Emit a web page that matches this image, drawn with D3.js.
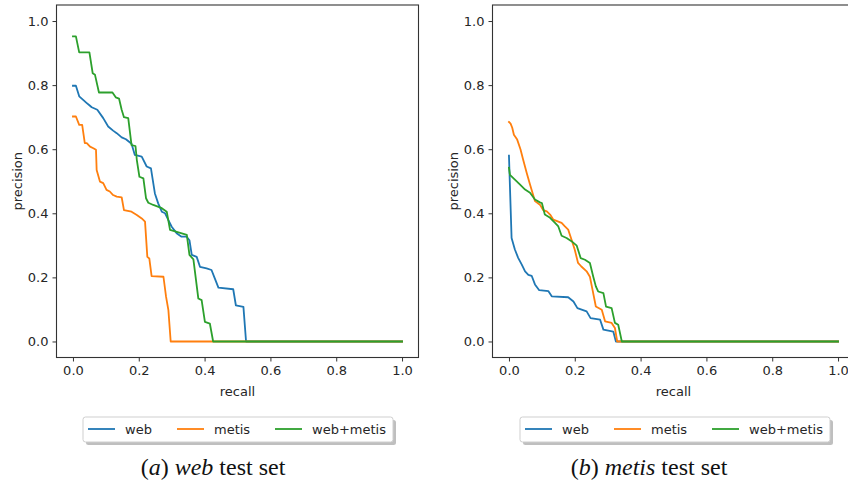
<!DOCTYPE html>
<html>
<head>
<meta charset="utf-8">
<script src="https://cdn.jsdelivr.net/npm/d3@7"></script>
<style>
  html, body { margin: 0; padding: 0; background: #fff; }
  svg { display: block; }
</style>
</head>
<body>
<svg id="chart" width="848" height="485"></svg>
<script>
// Precision–recall curves, [recall, precision] pairs.
// (a) web test set
const webTestWeb = [
  [0, 0.798], [0.009, 0.798], [0.019, 0.765], [0.031, 0.754], [0.042, 0.744], [0.05, 0.737],
  [0.057, 0.731], [0.074, 0.723], [0.092, 0.697], [0.107, 0.671], [0.122, 0.658], [0.133, 0.65],
  [0.148, 0.637], [0.161, 0.631], [0.178, 0.617], [0.188, 0.582], [0.209, 0.577], [0.224, 0.546],
  [0.237, 0.54], [0.249, 0.462], [0.259, 0.431], [0.27, 0.405], [0.28, 0.4], [0.29, 0.379],
  [0.3, 0.358], [0.315, 0.338], [0.33, 0.327], [0.345, 0.327], [0.354, 0.316], [0.361, 0.27],
  [0.376, 0.264], [0.386, 0.233], [0.406, 0.228], [0.421, 0.223], [0.431, 0.197], [0.442, 0.168],
  [0.487, 0.163], [0.495, 0.113], [0.518, 0.108], [0.526, 0], [1.0, 0]
];
const webTestMetis = [
  [0, 0.702], [0.009, 0.702], [0.019, 0.676], [0.028, 0.676], [0.036, 0.619], [0.042, 0.619],
  [0.052, 0.608], [0.062, 0.603], [0.07, 0.598], [0.072, 0.535], [0.082, 0.499], [0.092, 0.494],
  [0.102, 0.473], [0.112, 0.468], [0.122, 0.457], [0.133, 0.452], [0.148, 0.45], [0.155, 0.41],
  [0.178, 0.405], [0.194, 0.395], [0.209, 0.384], [0.219, 0.374], [0.226, 0.264], [0.232, 0.259],
  [0.239, 0.204], [0.275, 0.202], [0.283, 0.139], [0.29, 0.098], [0.297, 0], [1.0, 0]
];
const webTestCombined = [
  [0, 0.952], [0.009, 0.952], [0.019, 0.902], [0.05, 0.902], [0.06, 0.837], [0.067, 0.832],
  [0.079, 0.777], [0.12, 0.777], [0.13, 0.762], [0.14, 0.758], [0.148, 0.723], [0.155, 0.7],
  [0.168, 0.697], [0.178, 0.613], [0.19, 0.61], [0.194, 0.567], [0.202, 0.514], [0.214, 0.509],
  [0.222, 0.447], [0.229, 0.433], [0.244, 0.426], [0.27, 0.416], [0.285, 0.405], [0.295, 0.348],
  [0.346, 0.333], [0.354, 0.27], [0.366, 0.256], [0.381, 0.134], [0.391, 0.129], [0.401, 0.061],
  [0.416, 0.056], [0.426, 0], [1.0, 0]
];
// (b) metis test set
const metisTestWeb = [
  [0, 0.58], [0.008, 0.323], [0.018, 0.287], [0.028, 0.261], [0.039, 0.24], [0.049, 0.219],
  [0.059, 0.208], [0.069, 0.205], [0.079, 0.178], [0.092, 0.16], [0.12, 0.157], [0.13, 0.141],
  [0.18, 0.138], [0.196, 0.125], [0.208, 0.104], [0.236, 0.094], [0.248, 0.073], [0.277, 0.068],
  [0.287, 0.037], [0.317, 0.031], [0.325, 0], [1.0, 0]
];
const metisTestMetis = [
  [0, 0.685], [0.005, 0.68], [0.01, 0.667], [0.015, 0.645], [0.025, 0.63], [0.035, 0.6],
  [0.043, 0.568], [0.054, 0.526], [0.064, 0.49], [0.079, 0.438], [0.094, 0.427], [0.104, 0.41],
  [0.115, 0.406], [0.125, 0.396], [0.135, 0.38], [0.15, 0.374], [0.16, 0.37], [0.17, 0.359],
  [0.18, 0.349], [0.19, 0.318], [0.2, 0.286], [0.21, 0.245], [0.22, 0.234], [0.236, 0.219],
  [0.246, 0.202], [0.254, 0.161], [0.264, 0.109], [0.282, 0.099], [0.292, 0.063], [0.312, 0.058],
  [0.322, 0.042], [0.329, 0], [1.0, 0]
];
const metisTestCombined = [
  [0, 0.542], [0.003, 0.52], [0.018, 0.505], [0.033, 0.49], [0.049, 0.474], [0.064, 0.464],
  [0.079, 0.443], [0.094, 0.434], [0.1, 0.432], [0.109, 0.396], [0.125, 0.386], [0.14, 0.37],
  [0.15, 0.359], [0.16, 0.33], [0.175, 0.323], [0.19, 0.313], [0.206, 0.299], [0.218, 0.26],
  [0.231, 0.255], [0.246, 0.245], [0.256, 0.203], [0.264, 0.172], [0.271, 0.156], [0.287, 0.151],
  [0.295, 0.109], [0.312, 0.104], [0.322, 0.058], [0.332, 0.052], [0.343, 0], [1.0, 0]
];

const seriesNames = ["web", "metis", "web+metis"];
const seriesColors = ["#1f77b4", "#ff7f0e", "#2ca02c"];
const xTicks = [0, 0.2, 0.4, 0.6, 0.8, 1.0];
const yTicks = [0, 0.2, 0.4, 0.6, 0.8, 1.0];

const panels = [
  { letter: "a", set: "web", series: [webTestWeb, webTestMetis, webTestCombined],
    xRange: [56.5, 418.5], legendX: 83, captionX: 213 },
  { letter: "b", set: "metis", series: [metisTestWeb, metisTestMetis, metisTestCombined],
    xRange: [492.5, 854.5], legendX: 520, captionX: 649 }
];

const svg = d3.select("#chart");
const axisColor = "#333";
const textColor = "#262626";
const yRange = [357.5, 5];
const y = d3.scaleLinear().domain([-0.05, 1.05]).range(yRange);
const fmt = d3.format(".1f");

panels.forEach(p => {
  const x = d3.scaleLinear().domain([-0.05, 1.05]).range(p.xRange);
  const g = svg.append("g");

  // plot lines
  const line = d3.line().x(d => x(d[0])).y(d => y(d[1]));
  p.series.forEach((s, i) => {
    g.append("path")
      .datum(s)
      .attr("d", line)
      .attr("fill", "none")
      .attr("stroke", seriesColors[i])
      .attr("stroke-width", 1.8)
      .attr("stroke-linejoin", "round")
      .attr("stroke-linecap", "square");
  });

  // axes frame
  g.append("rect")
    .attr("x", p.xRange[0]).attr("y", yRange[1])
    .attr("width", p.xRange[1] - p.xRange[0]).attr("height", yRange[0] - yRange[1])
    .attr("fill", "none").attr("stroke", axisColor).attr("stroke-width", 1.1);

  const xAxis = d3.axisBottom(x).tickValues(xTicks).tickFormat(fmt).tickSize(4).tickPadding(4);
  const gx = g.append("g").attr("transform", `translate(0,${yRange[0]})`).call(xAxis);
  const yAxis = d3.axisLeft(y).tickValues(yTicks).tickFormat(fmt).tickSize(4).tickPadding(4);
  const gy = g.append("g").attr("transform", `translate(${p.xRange[0]},0)`).call(yAxis);
  [gx, gy].forEach(a => {
    a.select(".domain").remove();
    a.selectAll(".tick line").attr("stroke", axisColor).attr("stroke-width", 1);
    a.selectAll(".tick text")
      .attr("fill", textColor)
      .style("font-family", "'DejaVu Sans', sans-serif")
      .style("font-size", "13px");
  });

  // axis titles
  g.append("text")
    .attr("x", x(0.5)).attr("y", 396)
    .attr("text-anchor", "middle")
    .attr("fill", textColor)
    .style("font-family", "'DejaVu Sans', sans-serif").style("font-size", "13px")
    .text("recall");
  const py = (yRange[0] + yRange[1]) / 2;
  const px = p.xRange[0] - 35;
  g.append("text")
    .attr("transform", `translate(${px},${py}) rotate(-90)`)
    .attr("text-anchor", "middle")
    .attr("fill", textColor)
    .style("font-family", "'DejaVu Sans', sans-serif").style("font-size", "13px")
    .text("precision");

  // legend
  const lg = g.append("g").attr("transform", `translate(${p.legendX},417)`);
  const lw = 310, lh = 25;
  lg.append("rect").attr("x", 3).attr("y", 3).attr("width", lw).attr("height", lh)
    .attr("rx", 2.5).attr("fill", "#8a8a8a").attr("opacity", 0.55);
  lg.append("rect").attr("x", 0).attr("y", 0).attr("width", lw).attr("height", lh)
    .attr("rx", 2.5).attr("fill", "#fff").attr("stroke", "#cfcfcf").attr("stroke-width", 1);
  const itemX = [5, 94, 192];
  seriesNames.forEach((name, i) => {
    lg.append("line")
      .attr("x1", itemX[i]).attr("x2", itemX[i] + 27)
      .attr("y1", 12).attr("y2", 12)
      .attr("stroke", seriesColors[i]).attr("stroke-width", 1.8);
    lg.append("text")
      .attr("x", itemX[i] + 37).attr("y", 17)
      .attr("fill", textColor)
      .style("font-family", "'DejaVu Sans', sans-serif").style("font-size", "13px")
      .text(name);
  });

  // caption
  const cap = g.append("text")
    .attr("x", p.captionX).attr("y", 475)
    .attr("text-anchor", "middle")
    .attr("fill", "#111")
    .style("font-family", "'Liberation Serif', 'Times New Roman', serif")
    .style("font-size", "24px");
  cap.append("tspan").text("(");
  cap.append("tspan").style("font-style", "italic").text(p.letter);
  cap.append("tspan").text(") ");
  cap.append("tspan").style("font-style", "italic").text(p.set);
  cap.append("tspan").text(" test set");
});
</script>
</body>
</html>
